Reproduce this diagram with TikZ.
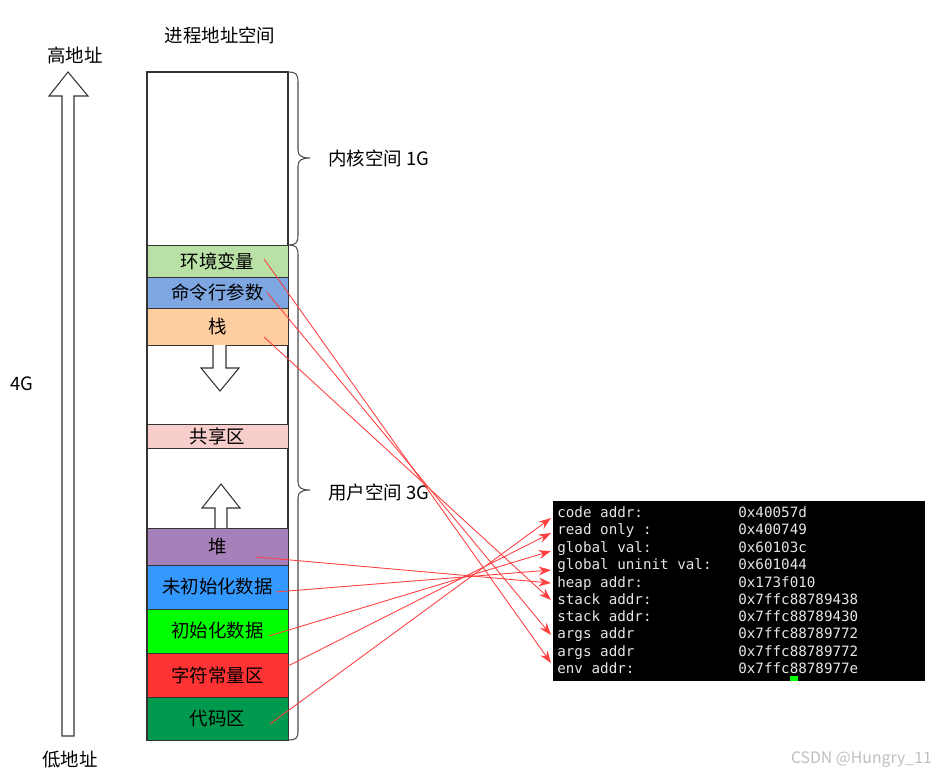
\documentclass[tikz,border=0pt]{standalone}
\usepackage{fontspec}
\setmainfont{Noto Sans CJK SC}
\setmonofont{DejaVu Sans Mono}
\usepackage{tikz}
\usetikzlibrary{arrows.meta,positioning}

\definecolor{envgreen}{HTML}{B9E0A5}
\definecolor{argblue}{HTML}{7EA6E0}
\definecolor{stackorange}{HTML}{FFCE9F}
\definecolor{sharedpink}{HTML}{F8CECC}
\definecolor{heappurple}{HTML}{A680B8}
\definecolor{bssblue}{HTML}{3399FF}
\definecolor{datagreen}{HTML}{00FF00}
\definecolor{rodatared}{HTML}{FF3333}
\definecolor{textgreen}{HTML}{00994D}
\definecolor{ptrred}{HTML}{FF4040}
\definecolor{termtext}{HTML}{E6E6E6}
\definecolor{cursorgreen}{HTML}{00FF00}

\begin{document}
\begin{tikzpicture}[x=0.02cm,y=-0.02cm,>={Stealth[length=7pt,width=5pt]},
    every node/.style={font=\fontsize{10.5}{12}\selectfont},
    seg/.style={draw=black!80,minimum width=2.82cm,inner sep=0pt,outer sep=0pt},
    ptr/.style={->,draw=ptrred,line width=0.5pt},
    termline/.style={font=\fontsize{8.1}{9}\ttfamily,text=termtext,anchor=base west,inner sep=0pt},
    bigarrow/.style={draw=black!80,fill=white,line width=0.6pt},
    brace/.style={draw=black!70,line width=0.6pt}]

  \useasboundingbox (0,0) rectangle (942,775);

  % left side
  \node (title) at (220,35) {进程地址空间};
  \node (high)  at (75,55)  {高地址};
  \node (size)  at (22,384) {4G};
  \node (low)   at (70,760) {低地址};
  \draw[bigarrow] (62,736) -- (62,96) -- (49,96) -- (68,72) -- (88,96)
                  -- (74,96) -- (74,736) -- cycle;

  % the address space column
  \draw[black!80,line width=0.6pt] (147,72) rectangle (288,740);
  \node[seg,fill=envgreen,minimum height=0.64cm,anchor=north] (env) at (217.5,245) {环境变量};
  \node[seg,fill=argblue,minimum height=0.62cm,below=0pt of env]   (args)   {命令行参数};
  \node[seg,fill=stackorange,minimum height=0.74cm,below=0pt of args] (stack) {栈};
  \node[seg,fill=sharedpink,minimum height=0.48cm,below=1.58cm of stack] (shared) {共享区};
  \node[seg,fill=heappurple,minimum height=0.74cm,below=1.6cm of shared] (heap) {堆};
  \node[seg,fill=bssblue,minimum height=0.88cm,below=0pt of heap]   (bss)    {未初始化数据};
  \node[seg,fill=datagreen,minimum height=0.88cm,below=0pt of bss]  (data)   {初始化数据};
  \node[seg,fill=rodatared,minimum height=0.88cm,below=0pt of data] (rodata) {字符常量区};
  \node[seg,fill=textgreen,minimum height=0.86cm,below=0pt of rodata] (code) {代码区};

  % growth arrows
  \draw[bigarrow] (213,345) -- (213,368) -- (201,368) -- (220,391) -- (239,368)
                  -- (226,368) -- (226,345);
  \draw[bigarrow] (215,528) -- (215,508) -- (202,508) -- (221,484) -- (240,508)
                  -- (227,508) -- (227,528);

  % braces
  \draw[brace] (288,72) .. controls (296,72) and (298,74) .. (298,82) -- (298,150)
     .. controls (298,156) and (302,158) .. (310,158)
     .. controls (302,158) and (298,160) .. (298,166) -- (298,235)
     .. controls (298,243) and (296,245) .. (288,245);
  \draw[brace] (288,245) .. controls (296,245) and (298,247) .. (298,255) -- (298,482)
     .. controls (298,488) and (302,490) .. (310,490)
     .. controls (302,490) and (298,492) .. (298,498) -- (298,732)
     .. controls (298,738) and (296,740) .. (288,740);
  \node[anchor=west] (kernel) at (322,158) {内核空间 1G};
  \node[anchor=west] (user)   at (322,492) {用户空间 3G};

  % terminal output
  \fill[black] (553,501) rectangle (925,681);
  \node[termline] (tcode)   at (557,517) {code addr:};
  \node[termline] (tro)     at (557,534) {read only :};
  \node[termline] (tgval)   at (557,552) {global val:};
  \node[termline] (tuninit) at (557,569) {global uninit val:};
  \node[termline] (theap)   at (557,587) {heap addr:};
  \node[termline] (tstack)  at (557,604) {stack addr:};
  \node[termline] (tstackb) at (557,621) {stack addr:};
  \node[termline] (targs)   at (557,638) {args addr};
  \node[termline] (targsb)  at (557,656) {args addr};
  \node[termline] (tenv)    at (557,673) {env addr:};
  \node[termline] at (738,517) {0x40057d};
  \node[termline] at (738,534) {0x400749};
  \node[termline] at (738,552) {0x60103c};
  \node[termline] at (738,569) {0x601044};
  \node[termline] at (738,587) {0x173f010};
  \node[termline] at (738,604) {0x7ffc88789438};
  \node[termline] at (738,621) {0x7ffc88789430};
  \node[termline] at (738,638) {0x7ffc88789772};
  \node[termline] at (738,656) {0x7ffc88789772};
  \node[termline] at (738,673) {0x7ffc8878977e};
  \fill[cursorgreen] (790,676) rectangle (798,681);

  % pointers
  \draw[ptr] ([shift={(46.5,-2)}]env.center)   -- ([shift={(-6,-10)}]tenv.base west);
  \draw[ptr] ([shift={(49.5,0)}]args.center)   -- ([shift={(-6,-3)}]targs.base west);
  \draw[ptr] ([shift={(46.5,10.5)}]stack.center) -- ([shift={(-6,-4)}]tstack.base west);
  \draw[ptr] ([shift={(38.5,10.5)}]heap.center)  -- ([shift={(-6,-4)}]theap.base west);
  \draw[ptr] ([shift={(58.5,5)}]bss.center)    -- ([shift={(-6,1)}]tuninit.base west);
  \draw[ptr] ([shift={(51.5,5)}]data.center)   -- ([shift={(-6,-1)}]tgval.base west);
  \draw[ptr] ([shift={(70.5,-9)}]rodata.center) -- ([shift={(-6,-1)}]tro.base west);
  \draw[ptr] ([shift={(52.5,5.5)}]code.center) -- ([shift={(-6,1)}]tcode.base west);

  \node[text=black!25,anchor=east,font=\fontsize{9}{10}\selectfont] (mark) at (938,760) {CSDN @Hungry\_11};
\end{tikzpicture}
\end{document}
